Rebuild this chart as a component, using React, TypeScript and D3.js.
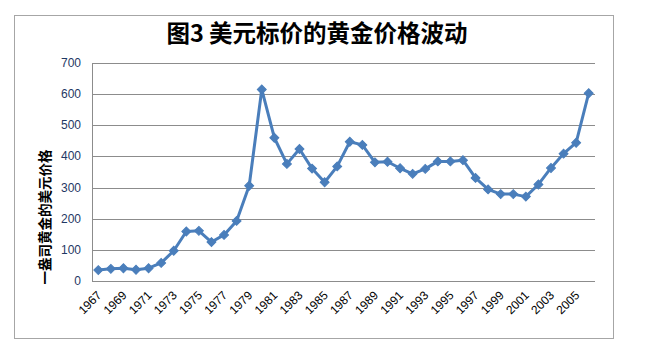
import React, { useEffect, useRef } from "react";
import * as d3 from "d3";

const years: number[] = d3.range(1967, 2007);
const prices: number[] = [
  35, 39, 41, 36, 41, 58, 97, 159, 161, 125,
  148, 193, 306, 615, 460, 376, 424, 361, 317, 368,
  447, 437, 381, 383, 362, 344, 360, 384, 384, 388,
  331, 294, 279, 279, 271, 310, 363, 409, 444, 603,
];
const yTicks: number[] = [0, 100, 200, 300, 400, 500, 600, 700];
const titleText = "图3 美元标价的黄金价格波动";
const yLabel = "一盎司黄金的美元价格";

const W = 647;
const H = 359;
const plot = { left: 92, right: 595, top: 63, bottom: 281 };

export default function App() {
  const ref = useRef<SVGSVGElement>(null);

  useEffect(() => {
    const svg = d3.select(ref.current);
    svg.selectAll("*").remove();

    svg
      .append("rect")
      .attr("x", 14.5)
      .attr("y", 15.5)
      .attr("width", 599)
      .attr("height", 323)
      .attr("fill", "#fff")
      .attr("stroke", "#A6A6A6")
      .attr("stroke-width", 1);

    const x = d3
      .scaleBand<string>()
      .domain(years.map(String))
      .range([plot.left, plot.right]);
    const y = d3.scaleLinear().domain([0, 700]).range([plot.bottom, plot.top]);

    // gridlines
    svg
      .append("g")
      .selectAll("line")
      .data(yTicks)
      .join("line")
      .attr("x1", plot.left)
      .attr("x2", plot.right)
      .attr("y1", (d) => Math.round(y(d)) + 0.5)
      .attr("y2", (d) => Math.round(y(d)) + 0.5)
      .attr("stroke", "#8C8C8C")
      .attr("stroke-width", 1);

    // left axis line
    svg
      .append("line")
      .attr("x1", plot.left + 0.5)
      .attr("x2", plot.left + 0.5)
      .attr("y1", plot.top)
      .attr("y2", plot.bottom + 0.5)
      .attr("stroke", "#8C8C8C");

    // y tick labels
    svg
      .append("g")
      .selectAll("text")
      .data(yTicks)
      .join("text")
      .attr("x", 81)
      .attr("y", (d) => y(d) + 4)
      .attr("text-anchor", "end")
      .attr("font-family", "Liberation Sans, Arial, sans-serif")
      .attr("font-size", 12)
      .attr("fill", "#1F3864")
      .text((d) => String(d));

    // x tick labels (every other year)
    svg
      .append("g")
      .selectAll("text")
      .data(years.filter((_, i) => i % 2 === 0))
      .join("text")
      .attr("transform", (d) => {
        const cx = (x(String(d)) as number) + x.bandwidth() / 2 + 4;
        return `translate(${cx},${plot.bottom + 15}) rotate(-45)`;
      })
      .attr("text-anchor", "end")
      .attr("font-family", "Liberation Sans, Arial, sans-serif")
      .attr("font-size", 12)
      .attr("fill", "#000")
      .text((d) => String(d));

    // line
    const line = d3
      .line<number>()
      .x((_, i) => (x(String(years[i])) as number) + x.bandwidth() / 2)
      .y((d) => y(d));

    svg
      .append("path")
      .datum(prices)
      .attr("d", line)
      .attr("fill", "none")
      .attr("stroke", "#4A7EBB")
      .attr("stroke-width", 3)
      .attr("stroke-linejoin", "round");

    const sym = d3.symbol().type(d3.symbolSquare).size(40);
    svg
      .append("g")
      .selectAll("path")
      .data(prices)
      .join("path")
      .attr("d", sym)
      .attr(
        "transform",
        (d, i) =>
          `translate(${(x(String(years[i])) as number) + x.bandwidth() / 2},${y(d)}) rotate(45)`
      )
      .attr("fill", "#4A7EBB")
      .attr("stroke", "#4A7EBB")
      .attr("stroke-width", 1);

    // title
    svg
      .append("text")
      .attr("x", 317)
      .attr("y", 42)
      .attr("text-anchor", "middle")
      .attr("font-family", "Noto Sans CJK SC, sans-serif")
      .attr("font-weight", "bold")
      .attr("font-size", 23.5)
      .attr("fill", "#000")
      .text(titleText);

    // y label
    svg
      .append("text")
      .attr("transform", `translate(50,217) rotate(-90)`)
      .attr("text-anchor", "middle")
      .attr("font-family", "Noto Sans CJK SC, sans-serif")
      .attr("font-weight", "bold")
      .attr("font-size", 13.5)
      .attr("fill", "#000")
      .text(yLabel);
  }, []);

  return (
    <div style={{ position: "absolute", left: 0, top: 0 }}>
      <svg ref={ref} width={W} height={H} style={{ display: "block" }} />
    </div>
  );
}
